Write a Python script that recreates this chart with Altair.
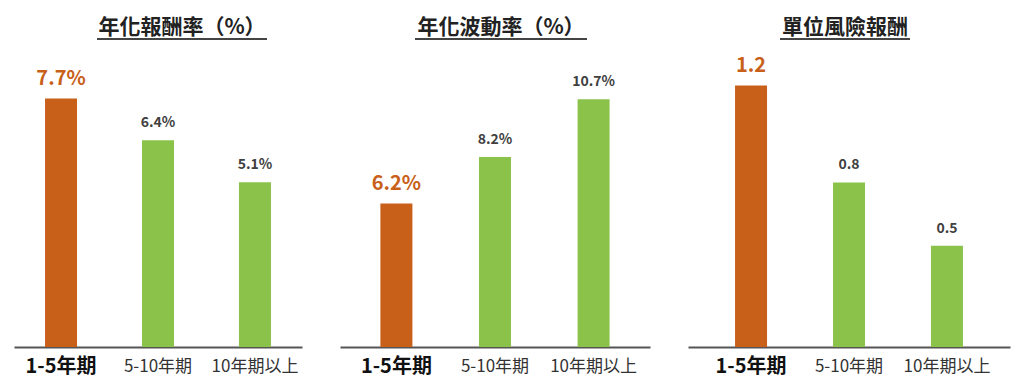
import altair as alt
import pandas as pd

categories = ["1-5年期", "5-10年期", "10年期以上"]
titles = ["年化報酬率（%）", "年化波動率（%）", "單位風險報酬"]
returns = [7.7, 6.4, 5.1]
volatility = [6.2, 8.2, 10.7]
risk_reward = [1.24, 0.78, 0.48]
labels_return = ["7.7%", "6.4%", "5.1%"]
labels_vol = ["6.2%", "8.2%", "10.7%"]
labels_rr = ["1.2", "0.8", "0.5"]

ORANGE = "#C8601A"
GREEN = "#8BC34A"
FONT = "Noto Sans CJK TC"

panels = [
    dict(vals=returns, labs=labels_return, title=titles[0], width=288, ymax=10.5,
         pi=0.67, po=0.32, tcx=168, ul=(83, 253)),
    dict(vals=volatility, labs=labels_vol, title=titles[1], width=310, ymax=14.64,
         pi=0.676, po=0.41, tcx=161, ul=(75, 247)),
    dict(vals=risk_reward, labs=labels_rr, title=titles[2], width=322, ymax=1.607,
         pi=0.673, po=0.48, tcx=157, ul=(92, 222)),
]

H = 339


def make_panel(p):
    df = pd.DataFrame({
        "cat": categories,
        "val": p["vals"],
        "lab": p["labs"],
        "hl": [True, False, False],
    })
    x = alt.X("cat:N", sort=categories, title=None,
              scale=alt.Scale(paddingInner=p["pi"], paddingOuter=p["po"]),
              axis=alt.Axis(labelAngle=0, ticks=False, tickSize=0,
                            domainColor="#555555", domainWidth=2,
                            labelFont=FONT, labelPadding=19, labelBaseline="middle",
                            labelFontSize={"expr": "datum.value == '1-5年期' ? 20 : 17"},
                            labelFontWeight={"expr": "datum.value == '1-5年期' ? 'bold' : 'normal'"},
                            labelColor={"expr": "datum.value == '1-5年期' ? '#111111' : '#333333'"}))
    y = alt.Y("val:Q", axis=None,
              scale=alt.Scale(domain=[0, p["ymax"]], nice=False, zero=True))
    base = alt.Chart(df).encode(x=x, y=y)
    bars = base.mark_bar(size=32).encode(
        color=alt.condition("datum.hl", alt.value(ORANGE), alt.value(GREEN))
    )
    text_hl = base.transform_filter("datum.hl").mark_text(
        font=FONT, fontSize=20, fontWeight="bold", dy=-13, baseline="alphabetic",
        color=ORANGE).encode(text="lab:N")
    text_other = base.transform_filter("!datum.hl").mark_text(
        font=FONT, fontSize=14, fontWeight="bold", dy=-13, baseline="alphabetic",
        color="#404040").encode(text="lab:N")
    tdf = pd.DataFrame({"t": [p["title"]]})
    title = alt.Chart(tdf).mark_text(
        font=FONT, fontSize=21, fontWeight="bold", color="#222222",
        baseline="middle", align="center").encode(
        x=alt.value(p["tcx"]), y=alt.value(20), text="t:N")
    underline = alt.Chart(tdf).mark_rule(color="#444444", strokeWidth=2).encode(
        x=alt.value(p["ul"][0]), x2=alt.value(p["ul"][1]), y=alt.value(31))
    return alt.layer(bars, text_hl, text_other, title, underline).properties(
        width=p["width"], height=H)


chart = alt.hconcat(*[make_panel(p) for p in panels], spacing=38).properties(
    padding={"left": 6, "top": 0, "right": 5, "bottom": 5},
    background="white",
).configure_view(strokeWidth=0, stroke="transparent")

chart.save("out.html", embed_options={"renderer": "svg", "actions": False})
